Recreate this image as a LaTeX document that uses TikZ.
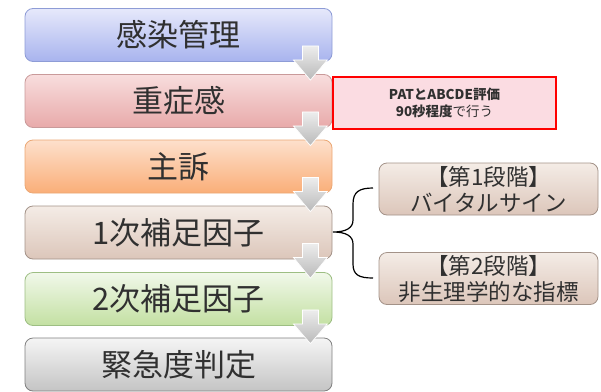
\documentclass[tikz,border=0pt]{standalone}
\usepackage{fontspec}
\newfontfamily\jp{Noto Sans CJK JP}
\usetikzlibrary{calc}
\definecolor{txt}{HTML}{303030}
\definecolor{c1t}{HTML}{E6E9FB}\definecolor{c1b}{HTML}{A8B3EE}\definecolor{c1d}{HTML}{8E9CD6}
\definecolor{c2t}{HTML}{F8DEDE}\definecolor{c2b}{HTML}{E8A9A9}\definecolor{c2d}{HTML}{C99A9A}
\definecolor{c3t}{HTML}{FDE0CC}\definecolor{c3b}{HTML}{FAAE78}\definecolor{c3d}{HTML}{EBA774}
\definecolor{c4t}{HTML}{F4ECE6}\definecolor{c4b}{HTML}{DCC6BA}\definecolor{c4d}{HTML}{A39288}
\definecolor{c5t}{HTML}{F1F8EA}\definecolor{c5b}{HTML}{C3E0A2}\definecolor{c5d}{HTML}{9DBE83}
\definecolor{c6t}{HTML}{F5F5F5}\definecolor{c6b}{HTML}{C4C4C4}\definecolor{c6d}{HTML}{808080}
\definecolor{redfill}{HTML}{FBDCE2}
\begin{document}
\begin{tikzpicture}[x=1pt,y=-1pt,
  mainbox/.style={rounded corners=8pt, minimum width=307pt, minimum height=53pt,
    inner sep=0pt, font=\jp\fontsize{31}{34}\selectfont, text=txt, line width=0.8pt},
  sidebox/.style={rounded corners=8pt, minimum width=219pt, minimum height=52pt,
    inner sep=0pt, align=center, font=\jp\fontsize{22.5}{26}\selectfont, text=txt,
    line width=0.8pt, top color=c4t, bottom color=c4b, draw=c4d},
  notebox/.style={minimum width=223pt, minimum height=52pt, inner sep=0pt, align=center,
    font=\jp\fontsize{13.5}{16.5}\selectfont, text=txt, fill=redfill, draw=red, line width=1.6pt},
  downarrow/.style={top color=gray!14, bottom color=gray!55, draw=white, line width=0.7pt},
  bracestyle/.style={draw=black, line width=1.2pt}
]
\useasboundingbox (0,0) rectangle (601,391);

\node[mainbox, top color=c1t, bottom color=c1b, draw=c1d] (b1) at (178.5,35) {感染管理};
\node[mainbox, top color=c2t, bottom color=c2b, draw=c2d] (b2) at (178.5,101) {重症感};
\node[mainbox, top color=c3t, bottom color=c3b, draw=c3d] (b3) at (178.5,166.5) {主訴};
\node[mainbox, top color=c4t, bottom color=c4b, draw=c4d] (b4) at (178.5,232.5) {1次補足因子};
\node[mainbox, top color=c5t, bottom color=c5b, draw=c5d] (b5) at (178.5,299) {2次補足因子};
\node[mainbox, top color=c6t, bottom color=c6b, draw=c6d] (b6) at (178.5,364.5) {緊急度判定};

\foreach \a/\b in {b1/b2,b2/b3,b3/b4,b4/b5,b5/b6}{
  \path[downarrow] let \p1=(\a.south east), \p2=(\b.north) in
    (\x1-30pt,\y1+16pt) -- (\x1-14pt,\y1+16pt) -- (\x1-14pt,\y1+2pt) -- (\x1-5pt,\y1+2pt)
    -- (\x1-22pt,\y2-6pt) -- (\x1-39pt,\y1+2pt) -- (\x1-30pt,\y1+2pt) -- cycle;
}

\node[notebox] (note) at (444.5,103) {{\bfseries PATとABCDE評価}\\{\bfseries 90秒程度}で行う};

\node[sidebox] (s1) at (488.5,189) {【第1段階】\\バイタルサイン};
\node[sidebox] (s2) at (488.5,278.5) {【第2段階】\\非生理学的な指標};

\draw[bracestyle] (373,188) .. controls (359,188) and (353,192) .. (353,204)
  -- (353,220) .. controls (353,228) and (346,232) .. (333,232)
  .. controls (346,232) and (353,236) .. (353,244)
  -- (353,264) .. controls (353,275) and (359,278) .. (373,278);
\end{tikzpicture}
\end{document}
